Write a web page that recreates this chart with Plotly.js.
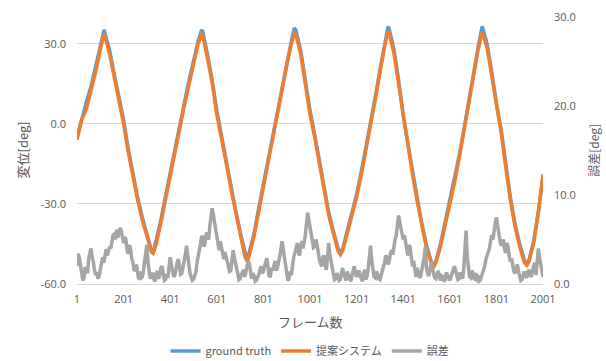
<!DOCTYPE html>
<html>
<head>
<meta charset="utf-8">
<script src="https://cdn.plot.ly/plotly-3.0.1.min.js"></script>
<style>html,body{margin:0;padding:0;background:#fff;}#chart{width:606px;height:361px;}</style>
</head>
<body>
<div id="chart"></div>
<script>
// Frames (x) for the two angle series
const lineFrames = [1,21,41,61,81,101,117,121,141,161,181,201,221,241,261,281,301,321,328,341,361,381,401,421,441,461,481,501,521,536,541,561,581,601,621,641,661,681,701,721,731,741,761,781,801,821,841,861,881,901,921,934,941,961,981,1001,1021,1041,1061,1081,1101,1121,1132,1141,1161,1181,1201,1221,1241,1261,1281,1301,1321,1336,1341,1361,1381,1401,1421,1441,1461,1481,1501,1521,1532,1541,1561,1581,1601,1621,1641,1661,1681,1701,1721,1740,1761,1781,1801,1821,1841,1861,1881,1901,1921,1931,1941,1961,1981,2001];
// ground truth [deg]
const groundTruth = [-5,2,8,14,21,29,35.2,34,27.5,18.5,10,1.5,-9.5,-19,-27.5,-35,-41.5,-47.5,-48.4,-44,-36,-27,-18,-9.5,-1,7.5,16,24,31,35.2,34.5,26,16.5,5,-4.5,-13.5,-23,-32,-40.5,-48.5,-51,-48,-41,-31.5,-22.5,-13.5,-4.5,4.5,14,23,31,35.9,35,27.5,16,5,-4,-14,-24.5,-33,-40,-46.5,-48.4,-47,-40,-33,-26.5,-18,-9,0.5,10,20,30,36.5,35.5,28,16.5,3,-7.5,-18,-28,-37.5,-45.5,-51.5,-53.5,-51.5,-45,-37,-29.5,-21,-12,-2.5,8,18,28,36.5,30,19.5,7.5,-2,-15,-27.5,-37.5,-45,-51,-52.2,-51,-44,-33,-20];
// proposed system [deg]
const proposed = [-6,1.5,5.5,12,19.5,28,33.5,33,26,17.5,9.5,0,-10.5,-20,-28.5,-36,-42.5,-48,-48.5,-45,-37,-28,-19.5,-10,-2.5,6.5,14.5,22.5,30,33.5,33,24.5,15.5,3.5,-5,-14.5,-24,-33,-41.5,-49.5,-51.5,-49,-42,-32.5,-23.5,-14,-5.5,3.5,13,22,30,34,33.5,26,15,3.5,-5,-15,-25.5,-34,-41,-47.5,-49,-47.5,-41,-34,-27.5,-19,-10,-0.5,9,19,29,34.5,34,26.5,15,2,-8.5,-19,-29,-38.5,-46.5,-52,-53.5,-52,-46,-38,-30.5,-22,-13,-3.5,7,17,27,34.5,28.5,18,6.5,-3,-16,-28.5,-38.5,-46,-52,-53,-51.5,-44.5,-33,-19];
// error [deg], every 5 frames from 1 to 2001
const errFrames = [];
for (let f = 1; f <= 2001; f += 5) errFrames.push(f);
const errorVals = [
2.0,3.4,3.0,1.8,1.2,0.4,0.7,1.9,1.5,1.2,2.8,3.6,4.0,3.0,2.5,1.6,1.0,1.3,0.6,0.9,1.8,2.6,3.0,2.4,3.6,3.9,3.2,3.8,4.2,4.0,4.8,5.5,5.6,5.0,6.1,5.2,5.8,6.3,6.0,4.9,
4.6,5.3,5.0,3.8,3.4,4.4,3.9,2.8,2.5,1.5,1.6,2.2,1.0,0.5,1.4,0.7,0.8,1.4,2.5,3.6,4.4,2.3,1.5,0.6,0.9,1.3,0.5,0.3,1.0,1.5,0.6,1.0,1.8,2.0,1.2,0.4,0.5,1.1,0.7,1.8,
3.0,2.2,1.6,0.8,1.0,1.9,2.4,2.8,2.0,1.1,1.2,1.8,2.5,3.3,4.3,3.0,2.2,1.2,0.8,0.4,0.5,0.9,1.3,2.4,3.0,3.8,4.5,5.4,5.2,4.2,4.6,5.8,5.5,5.0,6.5,7.6,8.5,7.8,7.0,6.0,
5.5,4.4,3.8,4.8,4.2,3.3,2.8,3.6,3.1,2.4,2.2,1.4,1.5,2.6,3.8,3.0,2.5,1.8,1.2,0.5,0.6,1.0,1.4,1.6,0.8,1.5,2.0,2.6,2.2,1.0,0.6,1.2,0.9,0.3,0.4,0.8,1.0,1.6,2.0,1.2,
1.4,2.0,2.4,2.9,1.8,0.8,0.9,1.8,1.5,2.2,2.6,1.5,1.8,2.4,3.0,3.8,4.8,3.8,3.2,2.0,1.2,0.4,0.6,1.4,1.0,2.2,3.0,3.5,4.0,4.6,3.7,3.2,4.3,4.8,4.0,4.7,5.5,6.8,8.0,7.2,
6.5,5.6,5.0,4.1,4.2,5.0,4.5,3.4,2.8,2.3,2.0,3.0,3.2,2.2,1.6,3.0,4.6,3.4,2.5,1.6,1.2,0.5,0.6,1.2,1.0,0.4,0.5,1.2,1.8,1.1,0.8,0.4,1.4,1.0,0.5,0.3,0.9,1.5,2.0,1.2,
0.8,1.3,1.5,0.9,0.6,0.3,1.2,1.6,0.5,0.9,1.8,2.8,4.3,2.6,1.6,0.8,0.7,1.4,1.1,0.6,0.5,0.9,1.4,1.9,2.4,3.2,3.0,2.2,2.6,3.4,3.8,3.3,4.4,5.0,5.4,6.5,7.7,7.0,6.4,5.4,
5.0,5.5,4.6,3.8,3.2,4.4,4.1,3.0,2.0,2.6,1.2,0.8,1.8,1.2,0.7,0.9,1.5,2.2,3.0,4.2,1.8,1.2,0.9,1.6,2.4,1.8,1.2,0.7,0.6,1.1,1.5,0.8,0.4,0.9,0.8,0.3,0.5,1.3,1.0,0.6,
0.4,0.8,1.2,1.6,2.0,1.5,1.1,0.5,0.6,1.3,1.0,0.6,1.8,3.5,6.0,3.0,1.5,0.8,0.7,1.5,1.2,0.6,0.5,1.0,0.9,0.3,0.4,0.8,1.2,1.5,2.0,2.8,3.2,3.6,4.0,4.8,5.5,5.0,6.3,6.8,
7.5,6.4,5.8,4.9,4.3,4.8,5.0,3.9,3.5,4.6,4.2,3.1,2.5,2.9,2.0,1.4,1.2,1.8,2.2,1.4,1.0,0.4,0.5,1.0,1.4,0.9,0.7,1.4,1.6,1.0,0.8,1.5,2.0,2.4,1.0,2.5,4.0,3.0,2.2,1.2,0.8];
const xTicks = [1,201,401,601,801,1001,1201,1401,1601,1801,2001];
const seriesNames = ['ground truth','提案システム','誤差'];

const txt = '#595959';
const latin = 'Open Sans, Noto Sans CJK JP, sans-serif';
const jp = 'Noto Sans CJK JP, sans-serif';

const data = [
  {x: lineFrames, y: groundTruth, name: seriesNames[0], type: 'scatter', mode: 'lines',
   line: {color: '#5b9bd5', width: 3.5}},
  {x: lineFrames, y: proposed, name: seriesNames[1], type: 'scatter', mode: 'lines',
   line: {color: '#ed7d31', width: 3.5}},
  {x: errFrames, y: errorVals, name: seriesNames[2], type: 'scatter', mode: 'lines', yaxis: 'y2',
   line: {color: '#a5a5a5', width: 3.5}}
];

const layout = {
  width: 606, height: 361,
  margin: {l: 77, r: 63, t: 17, b: 77, autoexpand: false},
  paper_bgcolor: '#fff', plot_bgcolor: '#fff',
  showlegend: true,
  font: {family: latin, size: 11, color: txt},
  xaxis: {
    range: [1, 2001], tickvals: xTicks, ticktext: xTicks.map(String),
    showgrid: false, zeroline: false, showline: true, linecolor: '#d9d9d9', linewidth: 1,
    ticks: '', ticklabelstandoff: 5, automargin: false,
    tickfont: {size: 11, color: txt, family: latin}
  },
  yaxis: {
    range: [-60, 40], tickvals: [-60,-30,0,30], ticktext: ['-60.0','-30.0','0.0','30.0'],
    showgrid: true, gridcolor: '#d9d9d9', gridwidth: 1, zeroline: false, showline: false,
    ticks: '', ticklabelstandoff: 10, automargin: false,
    tickfont: {size: 11, color: txt, family: latin}
  },
  yaxis2: {
    range: [0, 30], tickvals: [0,10,20,30], ticktext: ['0.0','10.0','20.0','30.0'],
    overlaying: 'y', side: 'right', showgrid: false, zeroline: false, showline: false,
    ticks: '', ticklabelstandoff: 10, automargin: false,
    tickfont: {size: 11, color: txt, family: latin}
  },
  legend: {
    orientation: 'h', x: 0.5, xanchor: 'center', xref: 'paper',
    yref: 'container', y: 0.028, yanchor: 'middle',
    font: {size: 11, color: txt, family: jp}, itemwidth: 30, traceorder: 'normal'
  },
  annotations: [
    {text: 'フレーム数', xref: 'paper', yref: 'paper', x: 0.5, y: -0.098, yanchor: 'top',
     showarrow: false, font: {family: jp, size: 13, color: txt}},
    {text: '変位[deg]', xref: 'paper', yref: 'paper', x: -0.118, xanchor: 'center', y: 0.5, yanchor: 'middle',
     textangle: -90, showarrow: false, font: {family: jp, size: 13, color: txt}},
    {text: '誤差[deg]', xref: 'paper', yref: 'paper', x: 1.108, xanchor: 'center', y: 0.5, yanchor: 'middle',
     textangle: -90, showarrow: false, font: {family: jp, size: 12, color: txt}}
  ]
};

Plotly.newPlot('chart', data, layout, {displayModeBar: false, staticPlot: true});
</script>
</body>
</html>
